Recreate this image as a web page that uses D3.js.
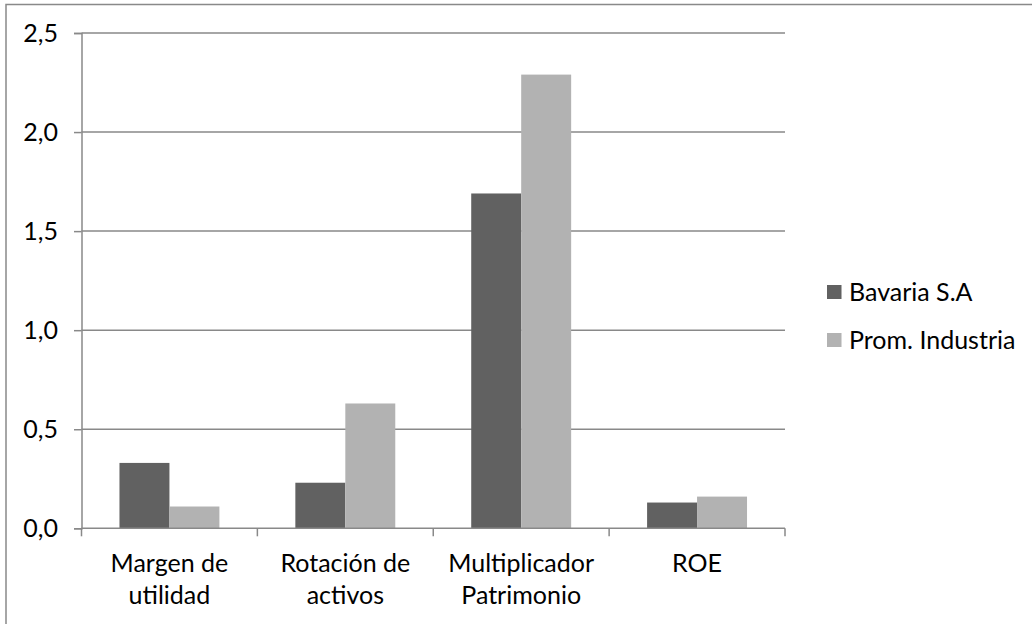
<!DOCTYPE html>
<html>
<head>
<meta charset="utf-8">
<script src="https://cdn.jsdelivr.net/npm/d3@7"></script>
<style>
  html, body { margin: 0; padding: 0; background: #fff; }
  svg text { font-family: Lato, "Open Sans", sans-serif; fill: #000; }
</style>
</head>
<body>
<svg id="chart" width="1032" height="624"></svg>
<script>
const categories = [["Margen de", "utilidad"], ["Rotación de", "activos"], ["Multiplicador", "Patrimonio"], ["ROE"]];
const categoryKeys = ["Margen de utilidad", "Rotación de activos", "Multiplicador Patrimonio", "ROE"];
const seriesNames = ["Bavaria S.A", "Prom. Industria"];
const bavaria = [0.33, 0.23, 1.69, 0.13];
const industria = [0.11, 0.63, 2.29, 0.16];
const yTicks = [0, 0.5, 1.0, 1.5, 2.0, 2.5];
const yTickLabels = ["0,0", "0,5", "1,0", "1,5", "2,0", "2,5"];

const colors = ["#616161", "#b2b2b2"];
const gridColor = "#898989";
const fontSize = 25;

const svg = d3.select("#chart");

// outer chart border
svg.append("rect")
  .attr("x", 6).attr("y", 4.5)
  .attr("width", 1040).attr("height", 640)
  .attr("fill", "none").attr("stroke", gridColor).attr("stroke-width", 1.5);

const x0 = 81.5, x1 = 785, yBottom = 528.3, yTop = 33;

const x = d3.scaleBand().domain(categoryKeys).range([x0, x1]).paddingInner(0).paddingOuter(0);
const xs = d3.scaleBand().domain(seriesNames).range([0, x.bandwidth()]).paddingInner(0).paddingOuter(0.76);
const y = d3.scaleLinear().domain([0, 2.5]).range([yBottom, yTop]);

// gridlines
svg.append("g").selectAll("line").data(yTicks.slice(1)).join("line")
  .attr("x1", x0).attr("x2", x1)
  .attr("y1", d => y(d)).attr("y2", d => y(d))
  .attr("stroke", gridColor).attr("stroke-width", 1.5);

// bars
const data = categoryKeys.map((c, i) => ({ cat: c, vals: [bavaria[i], industria[i]] }));
const groups = svg.append("g").selectAll("g").data(data).join("g")
  .attr("transform", d => `translate(${x(d.cat)},0)`);
groups.selectAll("rect").data(d => d.vals.map((v, j) => ({ v, s: seriesNames[j], j }))).join("rect")
  .attr("x", d => xs(d.s))
  .attr("width", xs.bandwidth())
  .attr("y", d => y(d.v))
  .attr("height", d => y(0) - y(d.v))
  .attr("fill", d => colors[d.j]);

// y axis
const yAxis = d3.axisLeft(y).tickValues(yTicks).tickFormat((d, i) => yTickLabels[i]).tickSize(7.5).tickPadding(16);
const gy = svg.append("g").attr("transform", `translate(${x0},0)`).call(yAxis);
gy.select(".domain").attr("stroke", gridColor).attr("stroke-width", 1.5);
gy.selectAll(".tick line").attr("stroke", gridColor).attr("stroke-width", 1.5);
gy.selectAll(".tick text").attr("font-size", fontSize).attr("font-family", "Lato, sans-serif").attr("fill", "#000").attr("dy", "0.33em");

// x axis line and boundary ticks
svg.append("line").attr("x1", x0).attr("x2", x1).attr("y1", yBottom).attr("y2", yBottom)
  .attr("stroke", gridColor).attr("stroke-width", 1.5);
const bounds = categoryKeys.map(c => x(c)).concat([x1]);
svg.append("g").selectAll("line").data(bounds).join("line")
  .attr("x1", d => d).attr("x2", d => d)
  .attr("y1", yBottom).attr("y2", yBottom + 8)
  .attr("stroke", gridColor).attr("stroke-width", 1.5);

// category labels
const labels = svg.append("g").selectAll("text").data(categories).join("text")
  .attr("x", (d, i) => x(categoryKeys[i]) + x.bandwidth() / 2)
  .attr("y", 572)
  .attr("text-anchor", "middle")
  .attr("font-size", fontSize);
labels.selectAll("tspan").data(d => d).join("tspan")
  .attr("x", function () { return d3.select(this.parentNode).attr("x"); })
  .attr("dy", (d, i) => i === 0 ? 0 : 31.6)
  .text(d => d);

// legend
const legend = svg.append("g").selectAll("g").data(seriesNames).join("g")
  .attr("transform", (d, i) => `translate(827,${285 + i * 48})`);
legend.append("rect").attr("width", 14.5).attr("height", 14).attr("fill", (d, i) => colors[i]);
legend.append("text").attr("x", 22).attr("y", 15.5).attr("font-size", fontSize).text(d => d);
</script>
</body>
</html>
